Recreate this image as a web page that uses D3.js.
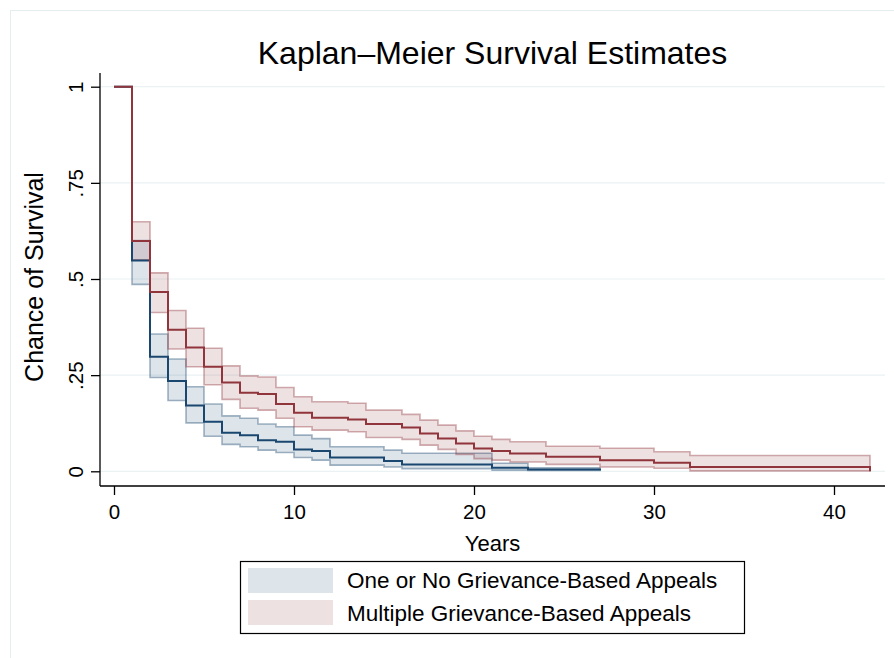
<!DOCTYPE html>
<html>
<head>
<meta charset="utf-8">
<script src="https://cdn.jsdelivr.net/npm/d3@7"></script>
<style>
  body { margin: 0; background: #fff; }
  text { font-family: "Liberation Sans", Arial, sans-serif; fill: #000; }
</style>
</head>
<body>
<div id="chart"></div>
<script>
// Kaplan-Meier estimates (steps at whole years)
const lowTimes  = [0, 1, 2, 3, 4, 5, 6, 7, 8, 9, 10, 11, 12, 15, 16, 21, 23, 27];
const lowSurv   = [1, .548, .298, .235, .171, .129, .100, .094, .081, .077, .057, .053, .036, .027, .018, .009, .005, .002];
const lowUpper  = [1, .600, .357, .292, .220, .175, .144, .138, .123, .116, .094, .085, .064, .055, .047, .021, .009, .009];
const lowLower  = [1, .486, .244, .184, .126, .091, .070, .064, .055, .049, .036, .029, .016, .011, .007, .003, .002, .002];

const highTimes = [0, 1, 2, 3, 4, 5, 6, 7, 8, 9, 10, 11, 13, 14, 16, 17, 18, 19, 20, 21, 22, 24, 27, 30, 32, 42];
const highSurv  = [1, .599, .466, .368, .322, .272, .231, .204, .201, .175, .152, .139, .135, .123, .114, .098, .085, .072, .059, .053, .046, .038, .029, .022, .011, 0];
const highUpper = [1, .649, .516, .418, .372, .320, .274, .248, .245, .218, .194, .181, .177, .159, .148, .133, .120, .105, .091, .083, .077, .065, .060, .051, .041, .041];
const highLower = [1, .550, .413, .318, .272, .225, .187, .164, .159, .138, .116, .107, .103, .088, .083, .068, .057, .044, .033, .029, .024, .018, .011, .008, .001, .001];

const xTicks = [0, 10, 20, 30, 40];
const yTicks = [0, .25, .5, .75, 1];
const yTickLabels = ["0", ".25", ".5", ".75", "1"];
const seriesNames = ["One or No Grievance-Based Appeals", "Multiple Grievance-Based Appeals"];

const navy = "#1a476f", maroon = "#90353b";

const W = 894, H = 658;
const plot = { left: 100, right: 885, top: 73, bottom: 486 };

const svg = d3.select('#chart')
    .append('svg')
    .attr('width', W)
    .attr('height', H);

svg.append('rect').attr('width', W).attr('height', H).attr('fill', '#fff');

// faint outer frame of the graph region
svg.append('rect')
    .attr('x', 10.5).attr('y', 10.5)
    .attr('width', 900).attr('height', 700)
    .attr('fill', 'none')
    .attr('stroke', '#e4eeef');

const x = d3.scaleLinear().domain([0, 40]).range([114, 834]);
const y = d3.scaleLinear().domain([0, 1]).range([471.3, 86.7]);

// gridlines
svg.append('g')
    .selectAll('line')
    .data(yTicks)
    .enter()
    .append('line')
    .attr('x1', plot.left).attr('x2', plot.right)
    .attr('y1', d => y(d)).attr('y2', d => y(d))
    .attr('stroke', '#eaf2f3')
    .attr('stroke-width', 1.2);

function makeRows(times, surv, lo, hi) {
    return times.map((t, i) => ({ t: t, s: surv[i], lo: lo[i], hi: hi[i] }));
}
const groups = [
    { rows: makeRows(lowTimes, lowSurv, lowLower, lowUpper), color: navy },
    { rows: makeRows(highTimes, highSurv, highLower, highUpper), color: maroon }
];

const band = d3.area()
    .curve(d3.curveStepAfter)
    .x(d => x(d.t))
    .y0(d => y(d.lo))
    .y1(d => y(d.hi));

const km = d3.line()
    .curve(d3.curveStepAfter)
    .x(d => x(d.t))
    .y(d => y(d.s));

// confidence bands
groups.forEach(g => {
    svg.append('path')
        .datum(g.rows.slice(1))
        .attr('d', band)
        .attr('fill', g.color)
        .attr('fill-opacity', 0.15)
        .attr('stroke', g.color)
        .attr('stroke-opacity', 0.4)
        .attr('stroke-width', 1.6);
});

// survival curves
groups.forEach(g => {
    svg.append('path')
        .datum(g.rows)
        .attr('d', km)
        .attr('fill', 'none')
        .attr('stroke', g.color)
        .attr('stroke-width', 2);
});

// axes
const yAxis = svg.append('g')
    .attr('transform', `translate(${plot.left},0)`)
    .call(d3.axisLeft(y).tickValues(yTicks).tickSize(9)
        .tickFormat((d, i) => yTickLabels[i]));
yAxis.select('.domain').remove();
yAxis.selectAll('.tick line').attr('stroke', '#000').attr('stroke-width', 1.3);
yAxis.selectAll('.tick text')
    .attr('transform', 'rotate(-90)')
    .attr('x', 0).attr('y', -17).attr('dy', 0)
    .attr('text-anchor', 'middle')
    .style('font-size', '20.5px')
    .style('font-family', '"Liberation Sans", Arial, sans-serif');

const xAxis = svg.append('g')
    .attr('transform', `translate(0,${plot.bottom})`)
    .call(d3.axisBottom(x).tickValues(xTicks).tickSize(9).tickFormat(d3.format('d')));
xAxis.select('.domain').remove();
xAxis.selectAll('.tick line').attr('stroke', '#000').attr('stroke-width', 1.3);
xAxis.selectAll('.tick text')
    .attr('y', 33).attr('dy', 0)
    .style('font-size', '20.5px')
    .style('font-family', '"Liberation Sans", Arial, sans-serif');

svg.append('line')
    .attr('x1', plot.left).attr('x2', plot.left)
    .attr('y1', plot.top).attr('y2', plot.bottom)
    .attr('stroke', '#000').attr('stroke-width', 1.3);
svg.append('line')
    .attr('x1', plot.left).attr('x2', plot.right)
    .attr('y1', plot.bottom).attr('y2', plot.bottom)
    .attr('stroke', '#000').attr('stroke-width', 1.3);

// titles
svg.append('text')
    .attr('x', (plot.left + plot.right) / 2)
    .attr('y', 64)
    .attr('text-anchor', 'middle')
    .style('font-size', '32px')
    .text('Kaplan\u2013Meier Survival Estimates');

svg.append('text')
    .attr('x', (plot.left + plot.right) / 2)
    .attr('y', 551)
    .attr('text-anchor', 'middle')
    .style('font-size', '22px')
    .text('Years');

svg.append('text')
    .attr('transform', 'rotate(-90)')
    .attr('x', -277)
    .attr('y', 43)
    .attr('text-anchor', 'middle')
    .style('font-size', '25px')
    .text('Chance of Survival');

// legend
const legend = svg.append('g');
legend.append('rect')
    .attr('x', 240.5).attr('y', 561.5)
    .attr('width', 504).attr('height', 72)
    .attr('fill', '#fff')
    .attr('stroke', '#000').attr('stroke-width', 1.2);

seriesNames.forEach((name, i) => {
    legend.append('rect')
        .attr('x', 248).attr('y', 568 + i * 32)
        .attr('width', 85).attr('height', 25)
        .attr('fill', groups[i].color)
        .attr('fill-opacity', 0.15);
    legend.append('text')
        .attr('x', 347).attr('y', 588 + i * 33)
        .style('font-size', '22.5px')
        .text(name);
});
</script>
</body>
</html>
